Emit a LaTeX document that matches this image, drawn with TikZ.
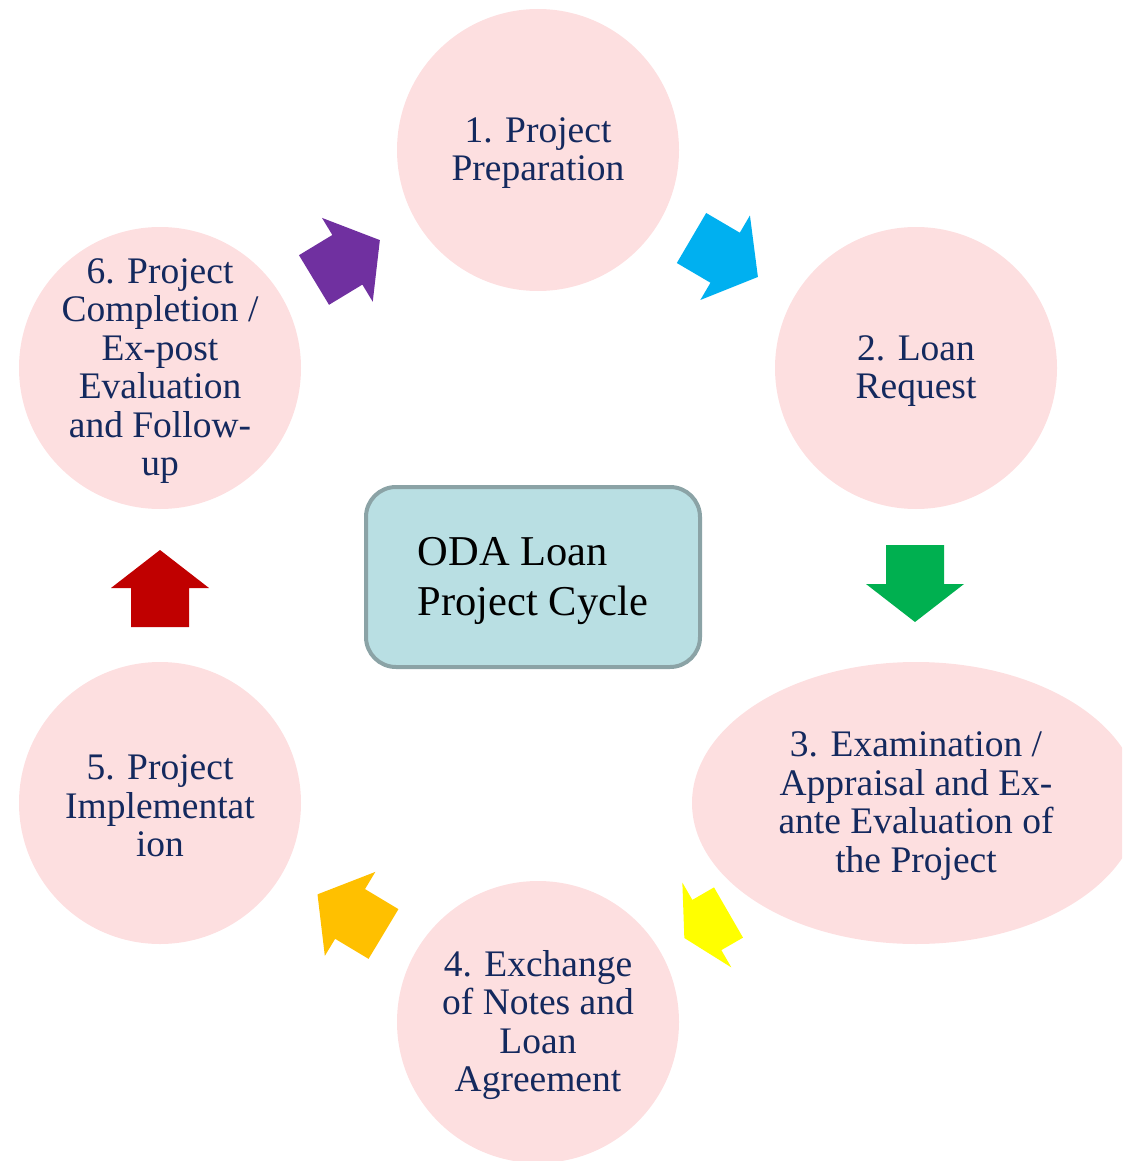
\documentclass[tikz,border=0pt]{standalone}
\usepackage{fontspec}
\setmainfont{Liberation Serif}
\usetikzlibrary{shapes.geometric}
\definecolor{pinkfill}{HTML}{FDDFE0}
\definecolor{navytext}{HTML}{14295E}
\definecolor{boxfill}{HTML}{B9DFE3}
\definecolor{boxdraw}{HTML}{8BA3A6}
\definecolor{apurple}{HTML}{7030A0}
\definecolor{ablue}{HTML}{00B0F0}
\definecolor{agreen}{HTML}{00B050}
\definecolor{ayellow}{HTML}{FFFF00}
\definecolor{aorange}{HTML}{FFC000}
\definecolor{ared}{HTML}{C00000}
\newcommand{\blkarrow}[5]{%
  \fill[#1, shift={#2}, rotate=#3] (0,-29) -- ({#4-#5},-29) -- ({#4-#5},-49) -- (#4,0) -- ({#4-#5},49) -- ({#4-#5},29) -- (0,29) -- cycle;}
\tikzset{
  stage/.style={circle, fill=pinkfill, minimum size=282pt, inner sep=0pt},
  stageell/.style={ellipse, fill=pinkfill, minimum width=448pt, minimum height=282pt, inner sep=0pt},
  stagetext/.style={inner sep=0pt, text=navytext, align=center, yshift=-3pt,
    font=\fontsize{37.5}{38.5}\selectfont},
  titlebox/.style={rectangle, rounded corners=30pt, fill=boxfill, draw=boxdraw, line width=4pt,
    minimum width=334pt, minimum height=180pt},
  titletext/.style={inner sep=0pt, align=left, yshift=-4pt, font=\fontsize{42.5}{50}\selectfont}
}
\begin{document}
\begin{tikzpicture}[x=1pt,y=-1pt]
\useasboundingbox (0,0) rectangle (1122,1161);
\clip (0,0) rectangle (1122,1161);
\node[stage] (s1) at (538,150) {};
\node[stagetext] (t1) at (s1.center) {1. Project\\Preparation};
\node[stage] (s2) at (916,368) {};
\node[stagetext] (t2) at (s2.center) {2. Loan\\Request};
\node[stageell] (s3) at (916,803) {};
\node[stagetext] (t3) at (s3.center) {3. Examination /\\Appraisal and Ex-\\ante Evaluation of\\the Project};
\node[stage] (s4) at (538,1022) {};
\node[stagetext] (t4) at (s4.center) {4. Exchange\\of Notes and\\Loan\\Agreement};
\node[stage] (s5) at (160,803) {};
\node[stagetext] (t5) at (s5.center) {5. Project\\Implementat\\ion};
\node[stage] (s6) at (160,368) {};
\node[stagetext] (t6) at (s6.center) {6. Project\\Completion /\\Ex-post\\Evaluation\\and Follow-\\up};
\node[titlebox] (c) at (533,577) {};
\node[titletext] (ct) at (c.center) {ODA Loan\\Project Cycle};
\blkarrow{apurple}{(314,280)}{31.2}{77}{38}
\blkarrow{ablue}{(691.5,238)}{-30.4}{77}{38}
\blkarrow{agreen}{(915,545)}{-90}{77}{38}
\blkarrow{ayellow}{(728.5,912.5)}{-150}{51}{26}
\blkarrow{aorange}{(383.5,934)}{-211}{77}{38}
\blkarrow{ared}{(160,627)}{90}{77}{38}
\end{tikzpicture}
\end{document}
